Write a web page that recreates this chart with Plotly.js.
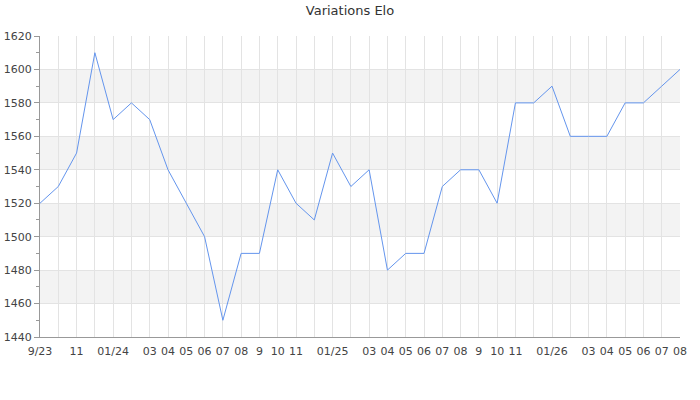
<!DOCTYPE html>
<html>
<head>
<meta charset="utf-8">
<script src="https://cdn.plot.ly/plotly-3.0.1.min.js"></script>
<style>html,body{margin:0;padding:0;background:#fff;}#chart{width:700px;height:400px;}</style>
</head>
<body>
<div id="chart"></div>
<script>
const months = ["2023-09","2023-10","2023-11","2023-12","2024-01","2024-02","2024-03","2024-04","2024-05","2024-06","2024-07","2024-08","2024-09","2024-10","2024-11","2024-12","2025-01","2025-02","2025-03","2025-04","2025-05","2025-06","2025-07","2025-08","2025-09","2025-10","2025-11","2025-12","2026-01","2026-02","2026-03","2026-04","2026-05","2026-06","2026-07","2026-08"];
const elo = [1520,1530,1550,1610,1570,1580,1570,1540,1520,1500,1450,1490,1490,1540,1520,1510,1550,1530,1540,1480,1490,1490,1530,1540,1540,1520,1580,1580,1590,1560,1560,1560,1580,1580,1590,1600];
const xTickText = ["9/23","","11","","01/24","","03","04","05","06","07","08","9","10","11","","01/25","","03","04","05","06","07","08","9","10","11","","01/26","","03","04","05","06","07","08"];
const yTicks = [1440,1460,1480,1500,1520,1540,1560,1580,1600,1620];

const shapes = [];
for (let i = 1; i < yTicks.length - 1; i += 2) {
  shapes.push({type:"rect", xref:"paper", yref:"y", x0:0, x1:1, y0:yTicks[i], y1:yTicks[i+1], fillcolor:"#f3f3f3", line:{width:0}, layer:"below"});
}

const trace = {x: months, y: elo, type:"scatter", mode:"lines", line:{color:"#6495ed", width:1}, hoverinfo:"x+y"};

const layout = {
  width:700, height:400,
  margin:{l:40, r:20, t:36, b:63},
  paper_bgcolor:"#fff", plot_bgcolor:"rgba(0,0,0,0)",
  font:{family:"DejaVu Sans", size:11, color:"#444"},
  title:{text:"Variations Elo", font:{family:"DejaVu Sans", size:13, color:"#333"}, x:0.5, xanchor:"center", y:0.985, yanchor:"top"},
  showlegend:false,
  shapes: shapes,
  xaxis:{type:"category", tickmode:"array", tickvals:months, ticktext:xTickText, range:[0, months.length-1],
    showgrid:true, gridcolor:"#e3e3e3", gridwidth:1, showline:true, linecolor:"#999", linewidth:1,
    ticks:"outside", ticklen:4, tickcolor:"rgba(0,0,0,0)", tickangle:0, zeroline:false, fixedrange:true},
  yaxis:{range:[1440,1620], tickmode:"array", tickvals:yTicks, showgrid:true, gridcolor:"#e3e3e3", gridwidth:1,
    showline:true, linecolor:"#999", linewidth:1, ticks:"outside", ticklen:5, tickcolor:"#999",
    minor:{dtick:10, ticks:"outside", ticklen:3, tickcolor:"#999", showgrid:false},
    zeroline:false, fixedrange:true}
};

Plotly.newPlot("chart", [trace], layout, {displayModeBar:false, staticPlot:true});
</script>
</body>
</html>
